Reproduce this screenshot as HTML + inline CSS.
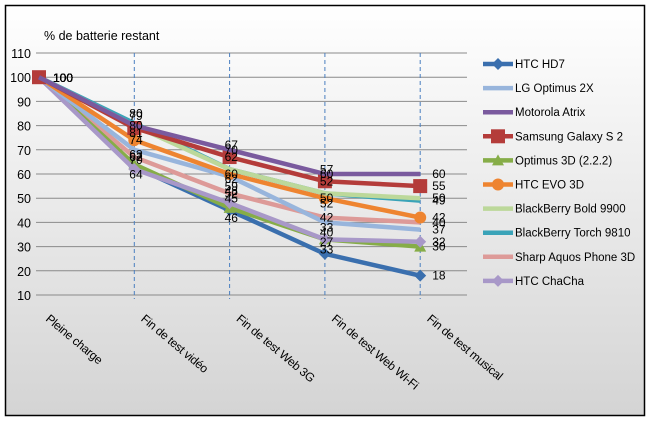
<!DOCTYPE html>
<html><head><meta charset="utf-8"><style>
body{margin:0;background:#fff;}
svg{display:block;font-family:"Liberation Sans",sans-serif;}
</style></head><body>
<svg id="chart" width="650" height="422">
<defs><linearGradient id="bg" x1="0" y1="0" x2="0" y2="1"><stop offset="0" stop-color="#ffffff"/><stop offset="1" stop-color="#d4d4d4"/></linearGradient></defs>
<rect x="5.5" y="5.5" width="639" height="410" fill="url(#bg)" stroke="#000" stroke-width="1.5"/>
<text x="44" y="40" font-size="12.5" fill="#000">% de batterie restant</text>
<g id="grid"></g><g id="series"></g><g id="labels"></g><g id="legend"></g>
</svg>
<script>
const categories=["Pleine charge","Fin de test  vidéo","Fin de test  Web 3G","Fin de test  Web Wi-Fi","Fin de test  musical"];
const yTicks=[10,20,30,40,50,60,70,80,90,100,110];
const seriesNames=["HTC HD7","LG Optimus 2X","Motorola Atrix","Samsung Galaxy S 2","Optimus 3D (2.2.2)","HTC EVO 3D","BlackBerry Bold 9900","BlackBerry Torch 9810","Sharp Aquos Phone 3D","HTC ChaCha"];
const seriesColors=["#3a6fae","#98b5dc","#7a5a9e","#b43c3a","#86ad48","#ee8430","#bcd89a","#3aa3b8","#dd9a98","#a898c8"];
const hd7=[100,63,45,27,18];
const lg=[100,70,59,40,37];
const atrix=[100,80,70,60,60];
const galaxy=[100,79,67,57,55];
const opt3d=[100,64,46,33,30];
const evo=[100,74,60,50,42];
const bold=[100,80,62,52,50];
const torch=[100,81,62,52,49];
const sharp=[100,67,52,42,40];
const chacha=[100,62,48,33,32];
const seriesValues=[hd7,lg,atrix,galaxy,opt3d,evo,bold,torch,sharp,chacha];
const NS="http://www.w3.org/2000/svg";
function X(i){return 39+i*95.3;}
function Y(v){return 295-(v-10)*2.42;}
function mk(tag,attrs,parent){const e=document.createElementNS(NS,tag);for(const k in attrs)e.setAttribute(k,attrs[k]);parent.appendChild(e);return e;}
const grid=document.getElementById('grid');
yTicks.forEach(t=>{
 const l=mk('line',{x1:36,x2:467,y1:Y(t),y2:Y(t),stroke:'#8a8a8a','stroke-width':1},grid);
 
 
 const tx=mk('text',{x:31,y:Y(t)+5,'font-size':12.5,'text-anchor':'end'},grid);
 tx.textContent=t;
 
 
});
categories.forEach((c,i)=>{
 if(i>0){const d=mk('line',{x1:X(i),x2:X(i),y1:Y(110),y2:Y(10)+4,stroke:'#4a7fc0','stroke-width':1,'stroke-dasharray':'4,3'},grid);
 
 }
 const tx=mk('text',{x:0,y:0,'font-size':12,'letter-spacing':'-0.3',transform:`translate(${X(i)+6},${320}) rotate(40)`},grid);
 tx.textContent=c;
 
 
});
const sg=document.getElementById('series');
function marker(k,x,y,col,g){
 let m;
 if(k===0||k===9) m=mk('polygon',{points:`${x},${y-6} ${x+6},${y} ${x},${y+6} ${x-6},${y}`,fill:col},g);
 else if(k===3) m=mk('rect',{x:x-7,y:y-7,width:14,height:14,fill:col},g);
 else if(k===4) m=mk('polygon',{points:`${x},${y-6} ${x+6},${y+5} ${x-6},${y+5}`,fill:col},g);
 else if(k===5) m=mk('circle',{cx:x,cy:y,r:6,fill:col},g);
 else return;
 
 
}
const order=[8,0,4,9,1,5,7,6,3,2];
order.forEach(k=>{
 const vals=seriesValues[k];
 const g=mk('g',{},sg);
 
 
 const pts=vals.map((v,i)=>X(i)+','+Y(v)).join(' ');
 const pl=mk('polyline',{points:pts,fill:'none',stroke:seriesColors[k],'stroke-width':4.5,'stroke-linejoin':'round'},g);
 
 
 vals.forEach((v,i)=>marker(k,X(i),Y(v),seriesColors[k],g));
});
const lg2=document.getElementById('labels');
seriesValues.forEach((vals,k)=>{
 vals.forEach((v,i)=>{
  const dx=i===0?14:(i===4?12:-5);
  const dy=i===0?5:(i===4?4:(k%3===0?-8:(k%3===1?14:4)));
  const t=mk('text',{x:X(i)+dx,y:Y(v)+dy,'font-size':12},lg2);
  t.textContent=v;
  
  
 });
});
const leg=document.getElementById('legend');
seriesNames.forEach((n,k)=>{
 const y=64+k*24.1;
 const g=mk('g',{},leg);
 
 
 const l=mk('line',{x1:483,x2:513,y1:y,y2:y,stroke:seriesColors[k],'stroke-width':4.5},g);
 
 
 marker(k,498,y,seriesColors[k],g);
 const t=mk('text',{x:515,y:y+4,'font-size':11.5},g);
 t.textContent=n;
 
 
});
</script>
</body></html>
